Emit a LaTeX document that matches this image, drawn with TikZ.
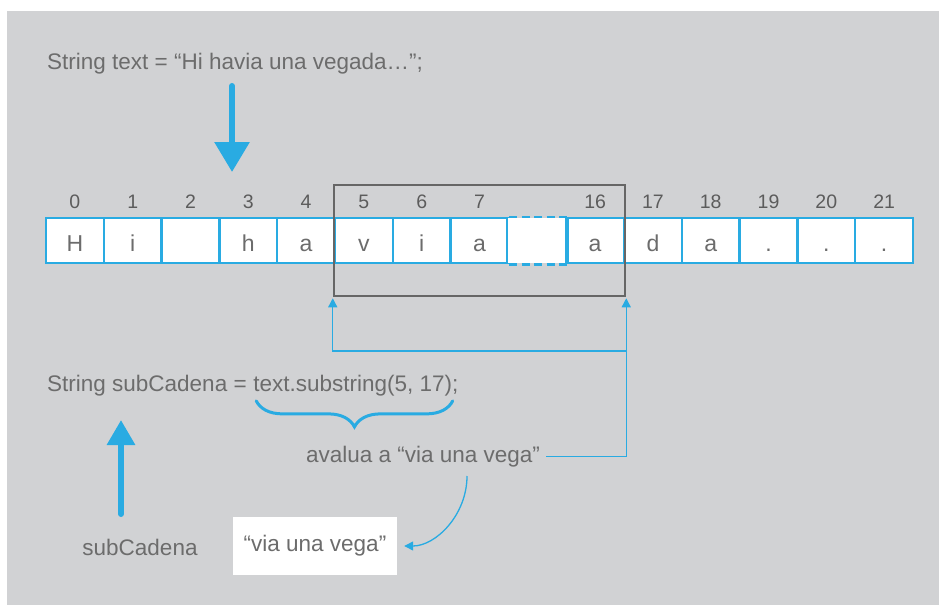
\documentclass[tikz,border=0pt]{standalone}
\usepackage{fontspec}
\setmainfont{Liberation Sans}
\usetikzlibrary{positioning,fit,arrows.meta,decorations.pathreplacing}
\definecolor{bgGray}{RGB}{209,210,212}
\definecolor{arrowBlue}{RGB}{41,171,226}
\definecolor{textGray}{RGB}{108,108,108}
\definecolor{frameGray}{RGB}{102,102,102}
\tikzset{
  cellStyle/.style={draw=arrowBlue, line width=2.5pt, fill=white, minimum width=57.8pt,
    minimum height=45pt, inner sep=0pt, text height=22pt, text depth=0pt,
    font=\fontsize{23}{23}\selectfont, text=textGray},
  cellLine/.style={draw=arrowBlue, line width=2.5pt},
  indexText/.style={font=\fontsize{19.5}{19.5}\selectfont, text=textGray!85!black, inner sep=0pt, text depth=0pt},
  codeText/.style={font=\fontsize{22.5}{26}\selectfont, text=textGray, inner sep=0pt},
  thinArrow/.style={draw=arrowBlue, line width=1.3pt, -{Triangle[length=9pt,width=9pt]}},
  bigArrow/.style={draw=arrowBlue, line width=6pt, line cap=round, -{Triangle[length=30pt,width=34pt]}},
  smallBigArrow/.style={bigArrow, -{Triangle[length=25pt,width=27pt]}}
}
\begin{document}
\begin{tikzpicture}[x=1pt, y=-1pt]
  \useasboundingbox (0,0) rectangle (939,607);
  \fill[bgGray] (7,11) rectangle (939,605);

  % declaration
  \node[codeText, anchor=base west] (declText) at (47,70) {String text = “Hi havia una vegada…”;};
  \coordinate (downStart) at (232,86);
  \coordinate (downEnd) at (232,172);
  \draw[bigArrow] (downStart) -- (downEnd);

  % the characters
  \foreach \letter/\index [count=\i from 0] in {H/0, i/1, {}/2, h/3, a/4, v/5, i/6, a/7, {}/{}, a/16, d/17, a/18, ./19, ./20, ./21} {
    \pgfmathsetmacro{\cx}{46 + 57.8*\i + 28.9}
    \ifnum\i=8
      \node[cellStyle, draw=none] (c\i) at (\cx,240.5) {};
    \else
      \node[cellStyle] (c\i) at (\cx,240.5) {\letter};
      \node[indexText, above=8pt of c\i] (n\i) {\index};
    \fi
  }
  \draw[cellLine] (c8.north west) -- (c8.south west);
  \draw[cellLine] (c8.north east) -- (c8.south east);
  \draw[cellLine, dash pattern=on 8pt off 4.5pt, dash phase=-2pt] (c8.north west) -- (c8.north east);
  \draw[cellLine, dash pattern=on 8pt off 4.5pt, dash phase=-2pt] (c8.south west) -- (c8.south east);

  % substring window
  \node[draw=frameGray, line width=2pt, inner xsep=0pt, inner ysep=32pt, fit=(c5)(c9)] (window) {};

  % substring call
  \node[codeText, anchor=base west] (decl) at (47,391) {String subCadena =};
  \node[codeText, anchor=base west] (call) at ([xshift=6.3pt]decl.base east) {text.substring(5, 17);};
  \draw[arrowBlue, line width=3pt, line cap=round, decorate, decoration={brace, mirror, amplitude=26pt}]
    ([xshift=3pt, yshift=-5pt]call.south west) -- ([xshift=-6pt, yshift=-5pt]call.south east);
  \node[codeText, anchor=base] (evalText) at (423,462) {avalua a “via una vega”};
  \draw[thinArrow, shorten <=6pt, shorten >=1pt] (evalText.east) -- (evalText.east -| window.south east) -- (window.south east);
  \draw[thinArrow, shorten >=1pt] (window.south east |- 0,351) -| (window.south west);

  % result
  \node[codeText, anchor=base] (subLabel) at (140,555) {subCadena};
  \coordinate (upStart) at (121,514);
  \coordinate (upEnd) at (121,420);
  \draw[smallBigArrow] (upStart) -- (upEnd);
  \node[codeText, fill=white, minimum width=164pt, minimum height=58pt] (result) at (315,546) {“via una vega”};
  \draw[thinArrow, shorten >=7pt] ([xshift=44pt, yshift=-14pt]evalText.base) to[out=-90, in=0] (result.east);
\end{tikzpicture}
\end{document}
